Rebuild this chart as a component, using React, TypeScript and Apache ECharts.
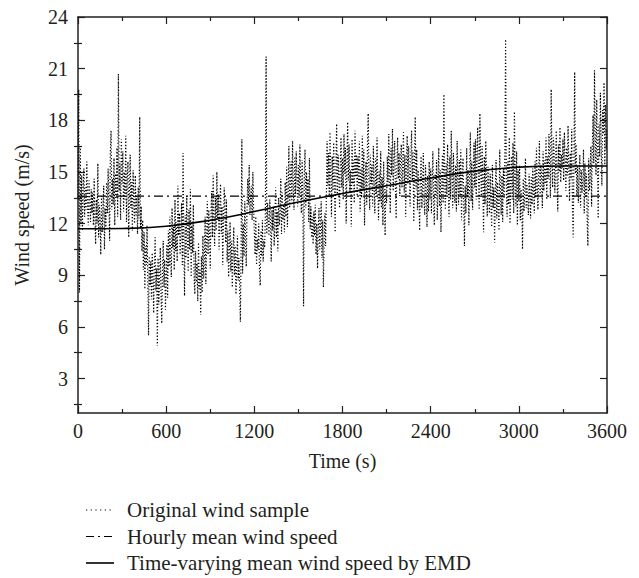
import React, { useEffect, useRef } from 'react';
import * as echarts from 'echarts';

// Original wind sample, one value every 5 s (0 s ... 3600 s), m/s
const SAMPLE_STEP = 5;
const sampleValues: number[] = [
  13.5, 19.8, 8.0, 16.5, 12.0, 14.8, 11.6, 13.9, 15.2, 12.4, 14.1, 12.8, 15.6, 13.0, 11.9, 14.5, 13.2, 12.1, 14.0, 12.6,
  13.8, 11.9, 14.6, 12.5, 10.8, 13.4, 12.0, 15.5, 11.2, 13.1, 12.3, 10.2, 13.6, 11.5, 12.8, 14.2, 10.5, 12.9, 11.8, 14.4,
  12.6, 15.2, 13.3, 11.0, 16.1, 17.4, 12.8, 14.6, 13.1, 15.8, 11.9, 14.9, 13.5, 16.4, 12.4, 20.7, 13.9, 15.5, 12.2, 16.9,
  14.3, 16.2, 12.7, 15.0, 13.4, 17.1, 12.1, 14.7, 15.6, 11.2, 13.9, 16.0, 12.9, 14.4, 11.6, 15.1, 13.2, 12.0, 14.8, 12.5,
  13.6, 11.4, 14.1, 12.3, 18.2, 11.7, 13.0, 10.4, 12.2, 9.3, 11.5, 8.2, 10.7, 9.6, 11.9, 8.8, 5.5, 10.1, 8.4, 9.8,
  7.6, 10.3, 8.9, 6.8, 9.7, 11.2, 8.1, 9.4, 4.9, 10.0, 7.3, 8.7, 10.6, 7.9, 6.2, 9.2, 11.0, 8.3, 9.9, 7.0,
  8.6, 10.8, 7.7, 11.6, 9.5, 12.4, 10.1, 8.9, 12.9, 10.6, 11.8, 9.3, 13.4, 10.4, 12.1, 9.8, 14.2, 11.3, 12.6, 10.2,
  11.7, 13.2, 9.6, 16.1, 10.9, 7.8, 12.5, 10.0, 13.6, 11.1, 9.2, 12.8, 10.5, 14.0, 8.9, 11.9, 10.3, 13.1, 9.0, 7.9,
  10.4, 8.6, 9.7, 7.5, 10.9, 8.2, 9.3, 6.7, 10.1, 8.0, 11.3, 8.8, 9.9, 12.4, 8.5, 11.0, 13.3, 10.2, 12.8, 11.5,
  9.4, 12.6, 13.9, 11.2, 14.8, 12.0, 10.7, 13.5, 11.6, 15.0, 12.3, 13.7, 10.5, 12.9, 14.3, 11.4, 13.0, 9.6, 12.2, 14.1,
  12.8, 10.9, 13.4, 9.8, 11.6, 8.9, 10.4, 12.1, 9.2, 11.0, 8.3, 10.2, 11.8, 9.0, 10.7, 7.9, 9.6, 11.3, 8.7, 10.0,
  8.4, 6.3, 10.6, 16.9, 9.1, 12.0, 10.1, 13.3, 11.2, 9.5, 12.7, 14.6, 13.1, 15.4, 12.5, 13.6, 14.2, 12.2, 15.0, 12.9,
  11.5, 10.2, 12.4, 9.6, 11.1, 10.5, 12.0, 9.3, 8.4, 11.6, 10.1, 12.2, 9.8, 11.0, 10.6, 12.5, 21.7, 11.4, 13.2, 12.0,
  11.3, 13.4, 12.1, 9.8, 12.8, 11.6, 13.0, 10.7, 12.3, 14.1, 11.2, 12.7, 10.4, 13.5, 11.9, 12.6, 14.6, 11.4, 13.8, 12.2,
  13.1, 11.5, 14.4, 12.4, 15.3, 11.8, 13.6, 16.5, 12.9, 14.2, 15.6, 13.3, 16.8, 14.0, 12.8, 15.9, 13.7, 16.2, 14.5, 13.0,
  15.4, 13.5, 16.6, 14.1, 12.6, 15.7, 13.8, 7.2, 14.9, 16.3, 12.9, 15.0, 13.4, 14.6, 12.1, 15.8, 11.7, 13.0, 11.2, 12.4,
  10.8, 12.7, 11.3, 13.1, 10.2, 12.0, 9.4, 11.6, 12.9, 10.5, 11.8, 13.3, 10.0, 12.2, 8.3, 11.1, 12.6, 10.7, 13.4, 16.8,
  14.2, 16.1, 13.6, 17.3, 14.8, 12.4, 15.9, 13.9, 16.7, 14.4, 11.5, 15.2, 17.8, 13.7, 16.0, 14.6, 12.9, 15.5, 17.0, 14.1,
  15.8, 13.4, 17.2, 14.9, 16.4, 12.0, 15.3, 17.9, 14.5, 16.6, 13.8, 15.1, 11.8, 16.9, 14.3, 15.7, 13.2, 17.4, 14.7, 16.0,
  13.6, 15.9, 14.2, 16.8, 12.7, 15.2, 13.5, 17.1, 14.0, 16.3, 11.9, 14.8, 15.6, 13.1, 16.7, 18.4, 14.5, 12.8, 16.0, 14.3,
  15.4, 13.0, 16.5, 14.1, 12.6, 15.8, 13.7, 17.0, 14.4, 12.2, 15.1, 13.3, 16.2, 12.9, 14.7, 11.9, 15.6, 13.5, 11.3, 14.0,
  13.2, 15.9, 14.4, 17.2, 15.0, 12.6, 16.4, 14.8, 17.5, 13.9, 15.6, 16.8, 14.2, 12.3, 15.3, 17.0, 14.6, 16.1, 13.6, 15.7,
  16.6, 14.1, 15.4, 17.3, 13.8, 16.0, 12.4, 15.2, 17.1, 14.3, 16.5, 14.9, 13.0, 15.8, 17.4, 14.5, 16.2, 12.1, 15.6, 18.2,
  14.0, 16.3, 12.8, 15.1, 13.6, 11.6, 14.7, 15.9, 12.9, 14.2, 16.1, 13.3, 12.5, 15.4, 13.9, 11.8, 14.8, 12.7, 15.6, 13.4,
  15.2, 12.6, 14.3, 16.2, 13.1, 11.9, 14.9, 13.5, 15.7, 12.2, 14.4, 16.4, 13.0, 15.1, 11.5, 14.0, 16.0, 13.2, 19.5, 14.6,
  12.8, 15.5, 13.7, 16.6, 14.2, 12.4, 15.9, 13.4, 17.4, 14.8, 12.9, 16.1, 14.0, 13.2, 15.4, 12.7, 16.8, 14.5, 13.1, 15.7,
  13.6, 16.3, 12.2, 14.7, 15.8, 13.0, 10.7, 14.2, 12.6, 16.4, 13.5, 15.1, 11.9, 14.8, 17.3, 13.3, 15.6, 12.8, 14.9, 16.7,
  14.1, 16.9, 13.4, 15.8, 17.6, 14.7, 12.8, 18.4, 15.2, 13.6, 16.5, 14.3, 11.5, 15.9, 13.1, 16.8, 14.6, 12.4, 15.3, 13.8,
  12.6, 14.9, 13.2, 11.8, 15.4, 12.9, 14.1, 10.9, 13.6, 15.7, 12.3, 14.4, 13.0, 11.6, 16.3, 13.8, 12.5, 14.8, 12.1, 15.2,
  13.5, 16.0, 22.7, 14.2, 12.4, 15.6, 13.1, 17.0, 12.0, 14.8, 15.9, 13.4, 16.7, 12.6, 18.5, 14.5, 13.0, 16.2, 11.9, 15.1,
  13.3, 15.4, 12.2, 14.0, 13.0, 10.5, 14.6, 12.7, 13.8, 15.8, 12.9, 14.3, 13.4, 12.5, 14.9, 13.6, 12.3, 14.7, 13.1, 15.2,
  14.0, 12.6, 15.6, 13.5, 16.4, 14.2, 12.8, 15.1, 16.8, 13.7, 15.4, 14.6, 12.9, 16.2, 13.9, 15.7, 14.3, 17.0, 13.4, 15.9,
  14.6, 17.2, 15.3, 13.5, 19.8, 15.9, 14.1, 17.0, 16.2, 13.8, 15.5, 17.4, 14.7, 12.7, 16.6, 15.0, 17.6, 14.4, 16.0, 15.2,
  16.9, 14.5, 17.3, 15.6, 13.9, 16.4, 14.8, 17.7, 15.2, 13.3, 16.1, 14.6, 17.5, 12.8, 11.2, 15.7, 20.8, 14.9, 16.6, 13.6,
  15.4, 13.2, 14.7, 16.0, 12.9, 15.1, 13.8, 14.4, 16.3, 12.6, 15.5, 13.5, 14.9, 12.2, 10.7, 15.8, 13.9, 14.6, 16.5, 13.0,
  16.4, 18.3, 15.5, 20.9, 17.1, 14.8, 19.2, 16.0, 12.3, 17.8, 15.9, 19.6, 16.7, 14.2, 18.6, 17.2, 20.2, 15.4, 18.9, 16.3,
  17.5,
];

// Time-varying mean wind speed by EMD
const emdTimes = [0, 300, 600, 900, 1200, 1500, 1800, 2100, 2400, 2700, 3000, 3300, 3600];
const emdValues = [11.7, 11.72, 11.85, 12.2, 12.7, 13.25, 13.75, 14.2, 14.65, 15.05, 15.28, 15.35, 15.35];

// Hourly mean wind speed
const hourlyTimes = [0, 3600];
const hourlyMean = 13.6;

const seriesNames = [
  'Original wind sample',
  'Hourly mean wind speed',
  'Time-varying mean wind speed by EMD',
];

const yMajorTicks = [3, 6, 9, 12, 15, 18, 21, 24];
const yMinorTicks = [1.5, 4.5, 7.5, 10.5, 13.5, 16.5, 19.5, 22.5];

const FONT = "'Liberation Serif', 'Times New Roman', serif";
const INK = '#231f20';

const SAMPLE_DASH = [1.2, 2];
const HOURLY_DASH = [9, 4, 2, 4];

export default function App() {
  const ref = useRef<HTMLDivElement>(null);

  useEffect(() => {
    if (!ref.current) return;
    const chart = echarts.init(ref.current, undefined, { renderer: 'svg' });

    const axisLine = { show: true, onZero: false, lineStyle: { color: INK, width: 1.5 } };
    const tickStyle = { color: INK, width: 1.2 };

    const yBase = { type: 'value' as const, min: 1, max: 24, splitLine: { show: false } };

    const legendStyles = [
      { lineWidth: 1.2, lineDash: [1.2, 3.5] },
      { lineWidth: 1.2, lineDash: [8, 4, 2, 4] },
      { lineWidth: 1.6, lineDash: null },
    ];
    const legendGraphics: any[] = [];
    seriesNames.forEach((name, i) => {
      const y = 510 + i * 26.5;
      legendGraphics.push({
        type: 'line',
        shape: { x1: 86, y1: y, x2: 114, y2: y },
        style: { stroke: '#000', lineWidth: legendStyles[i].lineWidth, lineDash: legendStyles[i].lineDash },
      });
      legendGraphics.push({
        type: 'text',
        x: 127,
        y,
        style: {
          text: name,
          fontFamily: FONT,
          fontSize: 21,
          fill: INK,
          verticalAlign: 'middle',
          align: 'left',
        },
      });
    });

    const option: any = {
      animation: false,
      backgroundColor: '#ffffff',
      grid: { left: 78, top: 17, width: 529, height: 396, containLabel: false },
      graphic: legendGraphics,
      xAxis: [
        {
          type: 'value',
          position: 'bottom',
          min: 0,
          max: 3600,
          interval: 600,
          name: 'Time (s)',
          nameLocation: 'middle',
          nameGap: 38,
          nameTextStyle: { fontFamily: FONT, fontSize: 20, color: INK },
          axisLine,
          axisTick: { show: true, inside: true, length: 7, lineStyle: tickStyle },
          minorTick: { show: true, splitNumber: 2, length: 4, lineStyle: tickStyle },
          axisLabel: {
            fontFamily: FONT,
            fontSize: 20,
            color: INK,
            margin: 8,
            formatter: (v: number) => String(v),
          },
          splitLine: { show: false },
        },
        {
          type: 'value',
          position: 'top',
          min: 0,
          max: 3600,
          interval: 600,
          axisLine,
          axisTick: { show: true, inside: true, length: 7, lineStyle: tickStyle },
          minorTick: { show: true, splitNumber: 2, length: 4, lineStyle: tickStyle },
          axisLabel: { show: false },
          splitLine: { show: false },
        },
      ],
      yAxis: [
        {
          ...yBase,
          position: 'left',
          name: 'Wind speed (m/s)',
          nameLocation: 'middle',
          nameGap: 46,
          nameTextStyle: { fontFamily: FONT, fontSize: 20, color: INK },
          axisLine,
          axisTick: { show: true, inside: true, length: 7, lineStyle: tickStyle, customValues: yMajorTicks },
          axisLabel: {
            fontFamily: FONT,
            fontSize: 20,
            color: INK,
            margin: 10,
            customValues: yMajorTicks,
            formatter: (v: number) => String(v),
          },
        },
        {
          ...yBase,
          position: 'left',
          axisLine: { show: false },
          axisTick: { show: true, inside: true, length: 4, lineStyle: tickStyle, customValues: yMinorTicks },
          axisLabel: { show: false },
        },
        {
          ...yBase,
          position: 'right',
          axisLine,
          axisTick: { show: true, inside: true, length: 7, lineStyle: tickStyle, customValues: yMajorTicks },
          axisLabel: { show: false },
        },
        {
          ...yBase,
          position: 'right',
          axisLine: { show: false },
          axisTick: { show: true, inside: true, length: 4, lineStyle: tickStyle, customValues: yMinorTicks },
          axisLabel: { show: false },
        },
      ],
      series: [
        {
          name: seriesNames[0],
          type: 'line',
          xAxisIndex: 0,
          yAxisIndex: 0,
          symbol: 'none',
          showSymbol: false,
          data: sampleValues.map((v, i) => [i * SAMPLE_STEP, v]),
          lineStyle: { color: '#000', width: 1.2, type: SAMPLE_DASH },
          z: 2,
        },
        {
          name: seriesNames[1],
          type: 'line',
          xAxisIndex: 0,
          yAxisIndex: 0,
          symbol: 'none',
          showSymbol: false,
          data: hourlyTimes.map((t) => [t, hourlyMean]),
          lineStyle: { color: '#000', width: 1.2, type: HOURLY_DASH },
          z: 3,
        },
        {
          name: seriesNames[2],
          type: 'line',
          xAxisIndex: 0,
          yAxisIndex: 0,
          symbol: 'none',
          showSymbol: false,
          smooth: 0.5,
          data: emdTimes.map((t, i) => [t, emdValues[i]]),
          lineStyle: { color: '#000', width: 1.6, type: 'solid' },
          z: 4,
        },
      ],
    };

    chart.setOption(option);
    return () => chart.dispose();
  }, []);

  return (
    <div
      ref={ref}
      style={{ position: 'fixed', left: 0, top: 0, width: 639, height: 578, background: '#fff' }}
    />
  );
}
